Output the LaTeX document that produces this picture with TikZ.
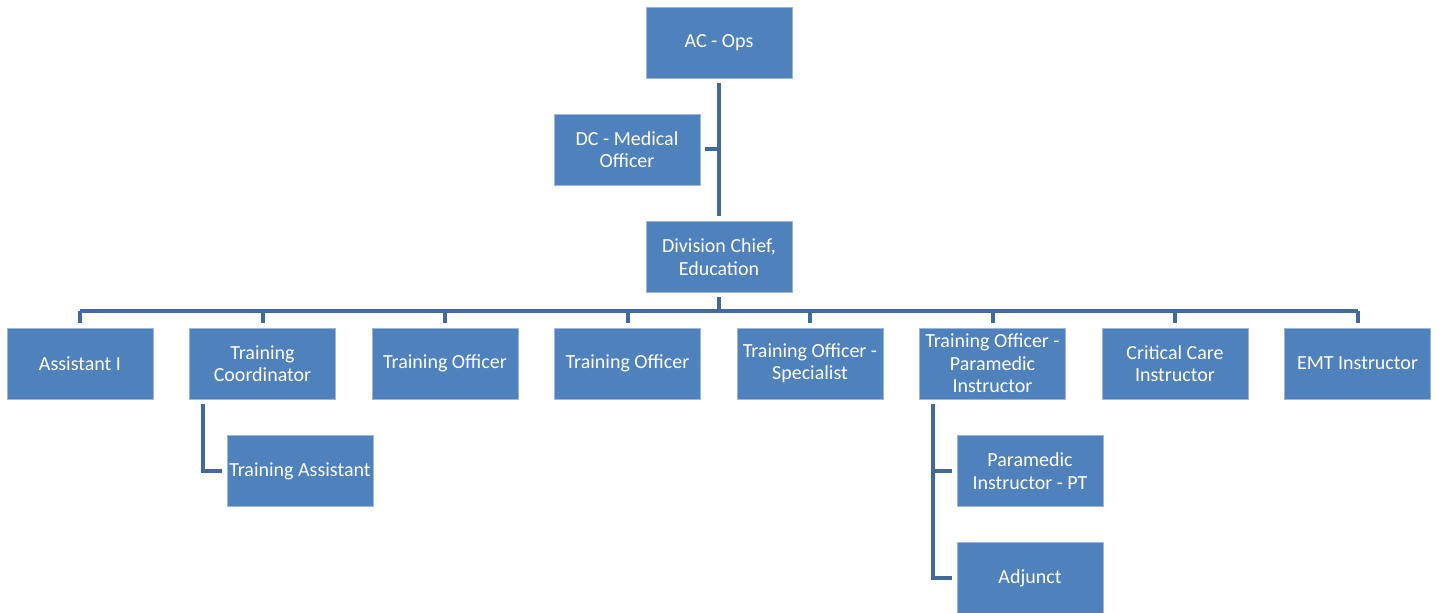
\documentclass[tikz,border=0pt]{standalone}
\usepackage{fontspec}
\setmainfont{Carlito}
\usepackage{xcolor}
\usepackage{tikz}
\usetikzlibrary{positioning}

\definecolor{boxblue}{HTML}{4F81BD}
\definecolor{edgeblue}{HTML}{9DB6D9}
\definecolor{linkblue}{HTML}{40699C}

\begin{document}
\begin{tikzpicture}[
	x=0.5pt, y=-0.5pt,
	bluenode/.style={rectangle, draw=edgeblue, fill=boxblue, line width=0.4pt, minimum width=73pt, minimum height=35.5pt, inner sep=0pt, outer sep=0pt, text=white, font=\fontsize{10}{11.2}\selectfont, align=center},
	orgline/.style={draw=linkblue, line width=2pt},
	]
	\useasboundingbox (0,0) rectangle (1441,613);
	%Nodes
	\node[bluenode](ac) at (719,42.5){AC - Ops};
	\node[bluenode](dc) at (627,149.5){DC - Medical\\Officer};
	\node[bluenode](div) at (719,257){Division Chief,\\Education};

	\node[bluenode](asst) at (80,363.5){Assistant I};
	\node[bluenode](tc)[right=18.25pt of asst]{Training\\Coordinator};
	\node[bluenode](toa)[right=18.25pt of tc]{Training Officer};
	\node[bluenode](tob)[right=18.25pt of toa]{Training Officer};
	\node[bluenode](tos)[right=18.25pt of tob]{Training Officer -\\Specialist};
	\node[bluenode](topi)[right=18.25pt of tos]{Training Officer -\\Paramedic\\Instructor};
	\node[bluenode](cci)[right=18.25pt of topi]{Critical Care\\Instructor};
	\node[bluenode](emt)[right=18.25pt of cci]{EMT Instructor};

	\node[bluenode](ta) at (300,471){Training Assistant};
	\node[bluenode](pipt) at (1030,471){Paramedic\\Instructor - PT};
	\node[bluenode](adj) at (1030,578){Adjunct};

	\coordinate (bar) at (719,311);

	%Lines
	\draw[orgline] ([yshift=-2.5pt]ac.south) -- ([yshift=2.5pt]div.north);
	\draw[orgline] ([xshift=2.5pt]dc.east) -- (dc.east -| ac.south);
	\draw[orgline] ([yshift=-2.5pt]div.south) -- (bar);
	\draw[orgline] (asst.north |- bar) -- (emt.north |- bar);
	\foreach \n in {asst,tc,toa,tob,tos,topi,cci,emt}
		\draw[orgline] (\n.north |- bar) -- ([yshift=2.5pt]\n.north);
	\draw[orgline] ([xshift=6.5pt,yshift=-2.5pt]tc.south west) |- ([xshift=-2.5pt]ta.west);
	\draw[orgline] ([xshift=6.5pt,yshift=-2.5pt]topi.south west) |- ([xshift=-2.5pt]pipt.west);
	\draw[orgline] ([xshift=6.5pt,yshift=-2.5pt]topi.south west) |- ([xshift=-2.5pt]adj.west);

\end{tikzpicture}
\end{document}
